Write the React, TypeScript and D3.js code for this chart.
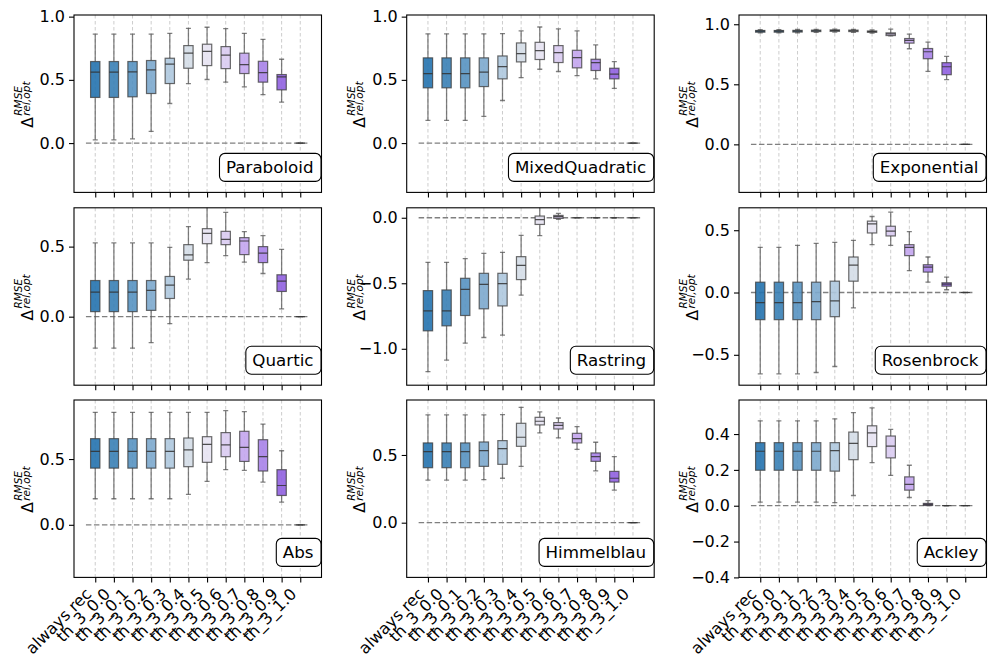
import * as d3 from "d3";
import React, { useEffect, useRef } from "react";

// box stats per category: [whisker low, q1, median, q3, whisker high]
type Stat = [number, number, number, number, number];

const categories = [
    "always rec", "th_3_0.0", "th_3_0.1", "th_3_0.2", "th_3_0.3", "th_3_0.4",
    "th_3_0.5", "th_3_0.6", "th_3_0.7", "th_3_0.8", "th_3_0.9", "th_3_1.0",
];

const panelNames = [
    "Paraboloid", "MixedQuadratic", "Exponential",
    "Quartic", "Rastring", "Rosenbrock",
    "Abs", "Himmelblau", "Ackley",
];

const zero: Stat = [0, 0, 0, 0, 0];

const paraboloid: Stat[] = [
    [0.026, 0.361, 0.561, 0.645, 0.861],
    [0.026, 0.361, 0.561, 0.645, 0.861],
    [0.034, 0.366, 0.563, 0.645, 0.861],
    [0.092, 0.392, 0.579, 0.653, 0.861],
    [0.313, 0.471, 0.624, 0.671, 0.868],
    [0.471, 0.592, 0.711, 0.771, 0.908],
    [0.503, 0.613, 0.726, 0.782, 0.916],
    [0.482, 0.589, 0.695, 0.763, 0.905],
    [0.445, 0.55, 0.621, 0.711, 0.868],
    [0.384, 0.482, 0.558, 0.647, 0.821],
    [0.324, 0.421, 0.524, 0.542, 0.663],
    zero,
];

const mixedQuadratic: Stat[] = [
    [0.179, 0.437, 0.55, 0.674, 0.863],
    [0.179, 0.437, 0.55, 0.674, 0.863],
    [0.179, 0.437, 0.55, 0.674, 0.863],
    [0.211, 0.447, 0.561, 0.674, 0.863],
    [0.337, 0.508, 0.605, 0.689, 0.866],
    [0.518, 0.642, 0.708, 0.792, 0.887],
    [0.584, 0.661, 0.732, 0.797, 0.918],
    [0.566, 0.637, 0.716, 0.771, 0.903],
    [0.534, 0.595, 0.676, 0.734, 0.887],
    [0.508, 0.574, 0.637, 0.663, 0.776],
    [0.432, 0.508, 0.545, 0.592, 0.645],
    zero,
];

const exponential: Stat[] = [
    [0.928, 0.934, 0.942, 0.948, 0.956],
    [0.928, 0.934, 0.942, 0.948, 0.956],
    [0.929, 0.935, 0.943, 0.949, 0.957],
    [0.932, 0.939, 0.946, 0.951, 0.958],
    [0.934, 0.941, 0.948, 0.953, 0.959],
    [0.932, 0.939, 0.946, 0.951, 0.958],
    [0.926, 0.933, 0.939, 0.944, 0.952],
    [0.903, 0.906, 0.92, 0.928, 0.959],
    [0.796, 0.843, 0.865, 0.881, 0.917],
    [0.608, 0.713, 0.771, 0.798, 0.851],
    [0.539, 0.58, 0.646, 0.68, 0.732],
    zero,
];

const quartic: Stat[] = [
    [-0.225, 0.036, 0.175, 0.258, 0.526],
    [-0.225, 0.036, 0.175, 0.258, 0.526],
    [-0.225, 0.036, 0.175, 0.258, 0.526],
    [-0.185, 0.045, 0.187, 0.258, 0.526],
    [-0.05, 0.13, 0.225, 0.287, 0.495],
    [0.268, 0.403, 0.441, 0.514, 0.642],
    [0.386, 0.521, 0.595, 0.628, 0.8],
    [0.436, 0.514, 0.552, 0.609, 0.744],
    [0.389, 0.443, 0.54, 0.564, 0.607],
    [0.308, 0.386, 0.453, 0.5, 0.578],
    [0.055, 0.18, 0.254, 0.299, 0.481],
    zero,
];

const rastring: Stat[] = [
    [-1.175, -0.863, -0.711, -0.556, -0.34],
    [-1.086, -0.825, -0.711, -0.551, -0.34],
    [-0.957, -0.746, -0.546, -0.462, -0.312],
    [-0.914, -0.695, -0.508, -0.424, -0.272],
    [-0.896, -0.673, -0.503, -0.424, -0.264],
    [-0.591, -0.472, -0.363, -0.297, -0.135],
    [-0.137, -0.051, -0.015, 0.013, 0.09],
    [-0.013, -0.005, 0.008, 0.018, 0.033],
    zero,
    zero,
    zero,
    zero,
];

const rosenbrock: Stat[] = [
    [-0.653, -0.218, -0.081, 0.083, 0.363],
    [-0.653, -0.218, -0.081, 0.083, 0.363],
    [-0.653, -0.218, -0.081, 0.083, 0.379],
    [-0.642, -0.218, -0.073, 0.083, 0.395],
    [-0.594, -0.194, -0.067, 0.091, 0.403],
    [-0.124, 0.091, 0.22, 0.285, 0.419],
    [0.384, 0.478, 0.551, 0.573, 0.61],
    [0.379, 0.454, 0.492, 0.532, 0.645],
    [0.175, 0.296, 0.363, 0.384, 0.489],
    [0.083, 0.164, 0.204, 0.223, 0.285],
    [0.022, 0.051, 0.067, 0.078, 0.124],
    zero,
];

const abs: Stat[] = [
    [0.198, 0.431, 0.558, 0.655, 0.855],
    [0.198, 0.431, 0.558, 0.655, 0.855],
    [0.198, 0.431, 0.558, 0.655, 0.855],
    [0.198, 0.431, 0.558, 0.655, 0.855],
    [0.198, 0.431, 0.558, 0.655, 0.855],
    [0.231, 0.442, 0.569, 0.66, 0.855],
    [0.33, 0.475, 0.612, 0.67, 0.855],
    [0.419, 0.518, 0.607, 0.701, 0.868],
    [0.414, 0.482, 0.589, 0.711, 0.86],
    [0.325, 0.409, 0.518, 0.647, 0.766],
    [0.173, 0.223, 0.299, 0.419, 0.563],
    zero,
];

const himmelblau: Stat[] = [
    [0.315, 0.406, 0.525, 0.589, 0.796],
    [0.315, 0.406, 0.525, 0.589, 0.796],
    [0.315, 0.406, 0.525, 0.589, 0.796],
    [0.318, 0.416, 0.532, 0.596, 0.796],
    [0.328, 0.431, 0.547, 0.606, 0.798],
    [0.416, 0.564, 0.631, 0.734, 0.852],
    [0.663, 0.722, 0.749, 0.778, 0.818],
    [0.626, 0.692, 0.719, 0.739, 0.773],
    [0.542, 0.589, 0.621, 0.66, 0.709],
    [0.382, 0.453, 0.488, 0.515, 0.594],
    [0.241, 0.3, 0.328, 0.379, 0.488],
    zero,
];

const ackley: Stat[] = [
    [0.02, 0.198, 0.304, 0.352, 0.474],
    [0.02, 0.198, 0.304, 0.352, 0.474],
    [0.02, 0.198, 0.304, 0.352, 0.474],
    [0.02, 0.198, 0.304, 0.352, 0.474],
    [0.017, 0.193, 0.307, 0.352, 0.485],
    [0.057, 0.257, 0.348, 0.411, 0.519],
    [0.241, 0.33, 0.407, 0.446, 0.546],
    [0.169, 0.267, 0.333, 0.389, 0.426],
    [0.046, 0.087, 0.119, 0.161, 0.226],
    [0, 0.002, 0.007, 0.013, 0.028],
    zero,
    zero,
];

const panelStats = [
    paraboloid, mixedQuadratic, exponential,
    quartic, rastring, rosenbrock,
    abs, himmelblau, ackley,
];

const yLimits: [number, number][] = [
    [-0.39, 1.013], [-0.39, 1.013], [-0.4, 1.077],
    [-0.489, 0.777], [-1.278, 0.076], [-0.744, 0.68],
    [-0.4, 0.949], [-0.404, 0.906], [-0.4, 0.59],
];

const boxColors = [
    "#2372ae", "#387fb5", "#5692c1", "#7ca8cd", "#aec8de", "#d4dde7",
    "#e7e3f2", "#d9cbf1", "#c3a5ee", "#a782e8", "#9061e0", "#8550d8",
];

const W = 997;
const H = 669;
const colLeft = [74, 406.7, 739];
const rowTop = [15, 207.8, 400];
const axW = 247.5;
const axH = 177.4;
const font = "DejaVu Sans";
const tickFont = 16;

const App: React.FC = () => {
    const ref = useRef<SVGSVGElement>(null);

    useEffect(() => {
        if (!ref.current) return;
        const svg = d3.select(ref.current);
        svg.selectAll("*").remove();
        svg.append("rect").attr("width", W).attr("height", H).attr("fill", "#fff");

        panelNames.forEach((name, k) => {
            const r = Math.floor(k / 3);
            const c = k % 3;
            const left = colLeft[c];
            const top = rowTop[r];
            const bottom = top + axH;
            const right = left + axW;

            const x = d3.scaleLinear().domain([-1.14, 12.14]).range([left, right]);
            const y = d3.scaleLinear().domain(yLimits[k]).range([bottom, top]);
            const step = x(1) - x(0);
            const bw = step * 0.5;

            const g = svg.append("g");
            const clipId = `clip-${k}`;
            g.append("clipPath").attr("id", clipId)
                .append("rect")
                .attr("x", left).attr("y", top)
                .attr("width", axW).attr("height", axH);

            const plot = g.append("g").attr("clip-path", `url(#${clipId})`);

            // vertical grid
            plot.selectAll(".grid")
                .data(d3.range(categories.length))
                .join("line")
                .attr("x1", d => x(d)).attr("x2", d => x(d))
                .attr("y1", top).attr("y2", bottom)
                .attr("stroke", "#b0b0b0")
                .attr("stroke-opacity", 0.8)
                .attr("stroke-width", 0.8)
                .attr("stroke-dasharray", "3.5,2.5");

            // zero reference line
            plot.append("line")
                .attr("x1", x(-0.5)).attr("x2", x(11.5))
                .attr("y1", y(0)).attr("y2", y(0))
                .attr("stroke", "#808080")
                .attr("stroke-width", 1.3)
                .attr("stroke-dasharray", "5.5,2.5");

            const stats = panelStats[k];
            const boxes = plot.selectAll(".box")
                .data(stats)
                .join("g");

            // whiskers
            boxes.append("line")
                .attr("x1", (_, i) => x(i)).attr("x2", (_, i) => x(i))
                .attr("y1", d => y(d[0])).attr("y2", d => y(d[1]))
                .attr("stroke", "#555").attr("stroke-opacity", 0.75).attr("stroke-width", 1.3);
            boxes.append("line")
                .attr("x1", (_, i) => x(i)).attr("x2", (_, i) => x(i))
                .attr("y1", d => y(d[3])).attr("y2", d => y(d[4]))
                .attr("stroke", "#555").attr("stroke-opacity", 0.75).attr("stroke-width", 1.3);
            // caps
            [0, 4].forEach(j => {
                boxes.append("line")
                    .attr("x1", (_, i) => x(i) - bw * 0.27).attr("x2", (_, i) => x(i) + bw * 0.27)
                    .attr("y1", d => y(d[j])).attr("y2", d => y(d[j]))
                    .attr("stroke", "#555").attr("stroke-opacity", 0.75).attr("stroke-width", 1.3);
            });
            // box body
            boxes.append("rect")
                .attr("x", (_, i) => x(i) - bw / 2)
                .attr("width", bw)
                .attr("y", d => y(d[3]))
                .attr("height", d => Math.max(0, y(d[1]) - y(d[3])))
                .attr("fill", (_, i) => boxColors[i])
                .attr("fill-opacity", 0.9)
                .attr("stroke", "#3a3a3a")
                .attr("stroke-opacity", 0.75)
                .attr("stroke-width", 1.2);
            // median
            boxes.append("line")
                .attr("x1", (_, i) => x(i) - bw / 2).attr("x2", (_, i) => x(i) + bw / 2)
                .attr("y1", d => y(d[2])).attr("y2", d => y(d[2]))
                .attr("stroke", "#333").attr("stroke-opacity", 0.85).attr("stroke-width", 1.2);

            // y axis
            const yAxis = g.append("g")
                .attr("transform", `translate(${left},0)`)
                .call(d3.axisLeft(y).ticks(4).tickSize(5).tickPadding(4)
                    .tickFormat(d => d3.format(".1f")(d as number).replace("-", "\u2212")));
            yAxis.select(".domain").remove();
            yAxis.attr("font-size", tickFont).attr("font-family", font);
            yAxis.selectAll("line").attr("stroke-width", 1.1);

            // x axis ticks
            const xAxis = g.append("g")
                .attr("transform", `translate(0,${bottom})`)
                .call(d3.axisBottom(x).tickValues(d3.range(categories.length)).tickSize(5).tickFormat(() => ""));
            xAxis.select(".domain").remove();
            xAxis.selectAll("line").attr("stroke-width", 1.1);

            if (r === 2) {
                const y0 = bottom + 9;
                g.selectAll(".xlab")
                    .data(categories)
                    .join("text")
                    .attr("transform", (_, i) => `translate(${x(i) - 2.7},${y0 + 8.6}) rotate(-45)`)
                    .attr("text-anchor", "end")
                    .attr("font-family", font)
                    .attr("font-size", tickFont)
                    .attr("fill", "#000")
                    .text(d => d);
            }

            // spines
            g.append("rect")
                .attr("x", left).attr("y", top)
                .attr("width", axW).attr("height", axH)
                .attr("fill", "none")
                .attr("stroke", "#000")
                .attr("stroke-width", 1.1);

            // y label: Delta^{RMSE}_{rel,opt}
            const lab = g.append("g")
                .attr("transform", `translate(${left - 51},${top + axH / 2}) rotate(-90)`)
                .attr("font-family", font)
                .attr("fill", "#000");
            lab.append("text").attr("x", -24).attr("y", 9.5).attr("font-size", 15.5).text("\u0394");
            lab.append("text").attr("x", -12).attr("y", -1).attr("font-size", 10.5)
                .attr("font-style", "italic").text("RMSE");
            lab.append("text").attr("x", -12).attr("y", 7).attr("font-size", 10.5)
                .attr("font-style", "italic").text("rel,opt");

            // name box
            const tb = g.append("g");
            const txt = tb.append("text")
                .attr("x", right - 8)
                .attr("y", bottom - 25)
                .attr("dy", "0.35em")
                .attr("text-anchor", "end")
                .attr("font-family", font)
                .attr("font-size", 16.7)
                .attr("fill", "#000")
                .text(name);
            const tw = (txt.node() as SVGTextElement).getComputedTextLength();
            tb.insert("rect", "text")
                .attr("x", right - 8 - tw - 6.5)
                .attr("y", bottom - 39)
                .attr("width", tw + 14)
                .attr("height", 28)
                .attr("rx", 5.5)
                .attr("fill", "#fff")
                .attr("stroke", "#000")
                .attr("stroke-width", 1.1);
        });
    }, []);

    return (
        <svg
            ref={ref}
            width={W}
            height={H}
            style={{ position: "absolute", left: 0, top: 0, display: "block" }}
        />
    );
};

export default App;
